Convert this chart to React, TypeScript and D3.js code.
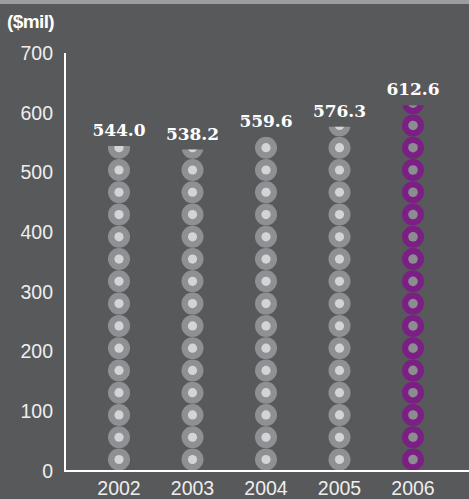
import React from "react";
import * as d3 from "d3";

const years = ["2002", "2003", "2004", "2005", "2006"];
const values = [544.0, 538.2, 559.6, 576.3, 612.6];
const highlight = [false, false, false, false, true];
const yTicks = [0, 100, 200, 300, 400, 500, 600, 700];

const W = 469;
const H = 499;
const BG = "#58595b";

export default function App() {
  const axisX = 65;
  const y = d3.scaleLinear().domain([0, 700]).range([470.5, 53]);
  const x = d3.scalePoint<string>().domain(years).range([119, 413]);

  const r = 11;
  const pitch = 22.27;

  return (
    <svg
      width={W}
      height={H}
      style={{ position: "absolute", left: 0, top: 0, display: "block" }}
      fontFamily="'Liberation Sans', Arial, sans-serif"
    >
      <rect x={0} y={0} width={W} height={H} fill={BG} />
      <rect x={0} y={0} width={W} height={4} fill="#9c9da0" />

      <defs>
        {years.map((yr, i) => (
          <clipPath id={`col-${yr}`} key={yr}>
            <rect
              x={(x(yr) as number) - r - 2}
              y={y(values[i])}
              width={2 * r + 4}
              height={y(0) - y(values[i])}
            />
          </clipPath>
        ))}
      </defs>

      <text x={7} y={28} fill="#ffffff" fontSize={19} fontWeight="bold" letterSpacing={-0.6}>
        ($mil)
      </text>

      {yTicks.map((t) => (
        <text
          key={t}
          x={53}
          y={y(t)}
          dy="0.36em"
          textAnchor="end"
          fill="#eeeeee"
          fontSize={19.5}
        >
          {t}
        </text>
      ))}

      {years.map((yr, i) => {
        const cx = x(yr) as number;
        const top = y(values[i]);
        const base = y(0);
        const centers: number[] = [];
        for (let c = base - r; c + r > top; c -= pitch) centers.push(c);
        const ring = highlight[i] ? "#7c1f85" : "#8f9093";
        const dot = highlight[i] ? "#8c8d90" : "#d3d4d6";
        const innerR = highlight[i] ? 4.8 : 4.6;
        return (
          <g key={yr} clipPath={`url(#col-${yr})`}>
            {centers.map((c, k) => (
              <g key={k}>
                <circle cx={cx} cy={c} r={r} fill={ring} />
                <circle cx={cx} cy={c} r={innerR} fill={dot} />
              </g>
            ))}
          </g>
        );
      })}

      {years.map((yr, i) => (
        <text
          key={yr}
          x={x(yr) as number}
          y={y(values[i]) - 10}
          textAnchor="middle"
          fill="#ffffff"
          fontSize={17}
          fontWeight="bold"
          fontFamily="'DejaVu Serif', serif"
        >
          {values[i].toFixed(1)}
        </text>
      ))}

      <line x1={axisX} x2={axisX} y1={53} y2={471} stroke="#ffffff" strokeWidth={2} />
      <line x1={axisX - 1} x2={W} y1={471} y2={471} stroke="#ffffff" strokeWidth={2} />

      {years.map((yr) => (
        <text
          key={yr}
          x={x(yr) as number}
          y={495}
          textAnchor="middle"
          fill="#eeeeee"
          fontSize={19.5}
        >
          {yr}
        </text>
      ))}
    </svg>
  );
}
